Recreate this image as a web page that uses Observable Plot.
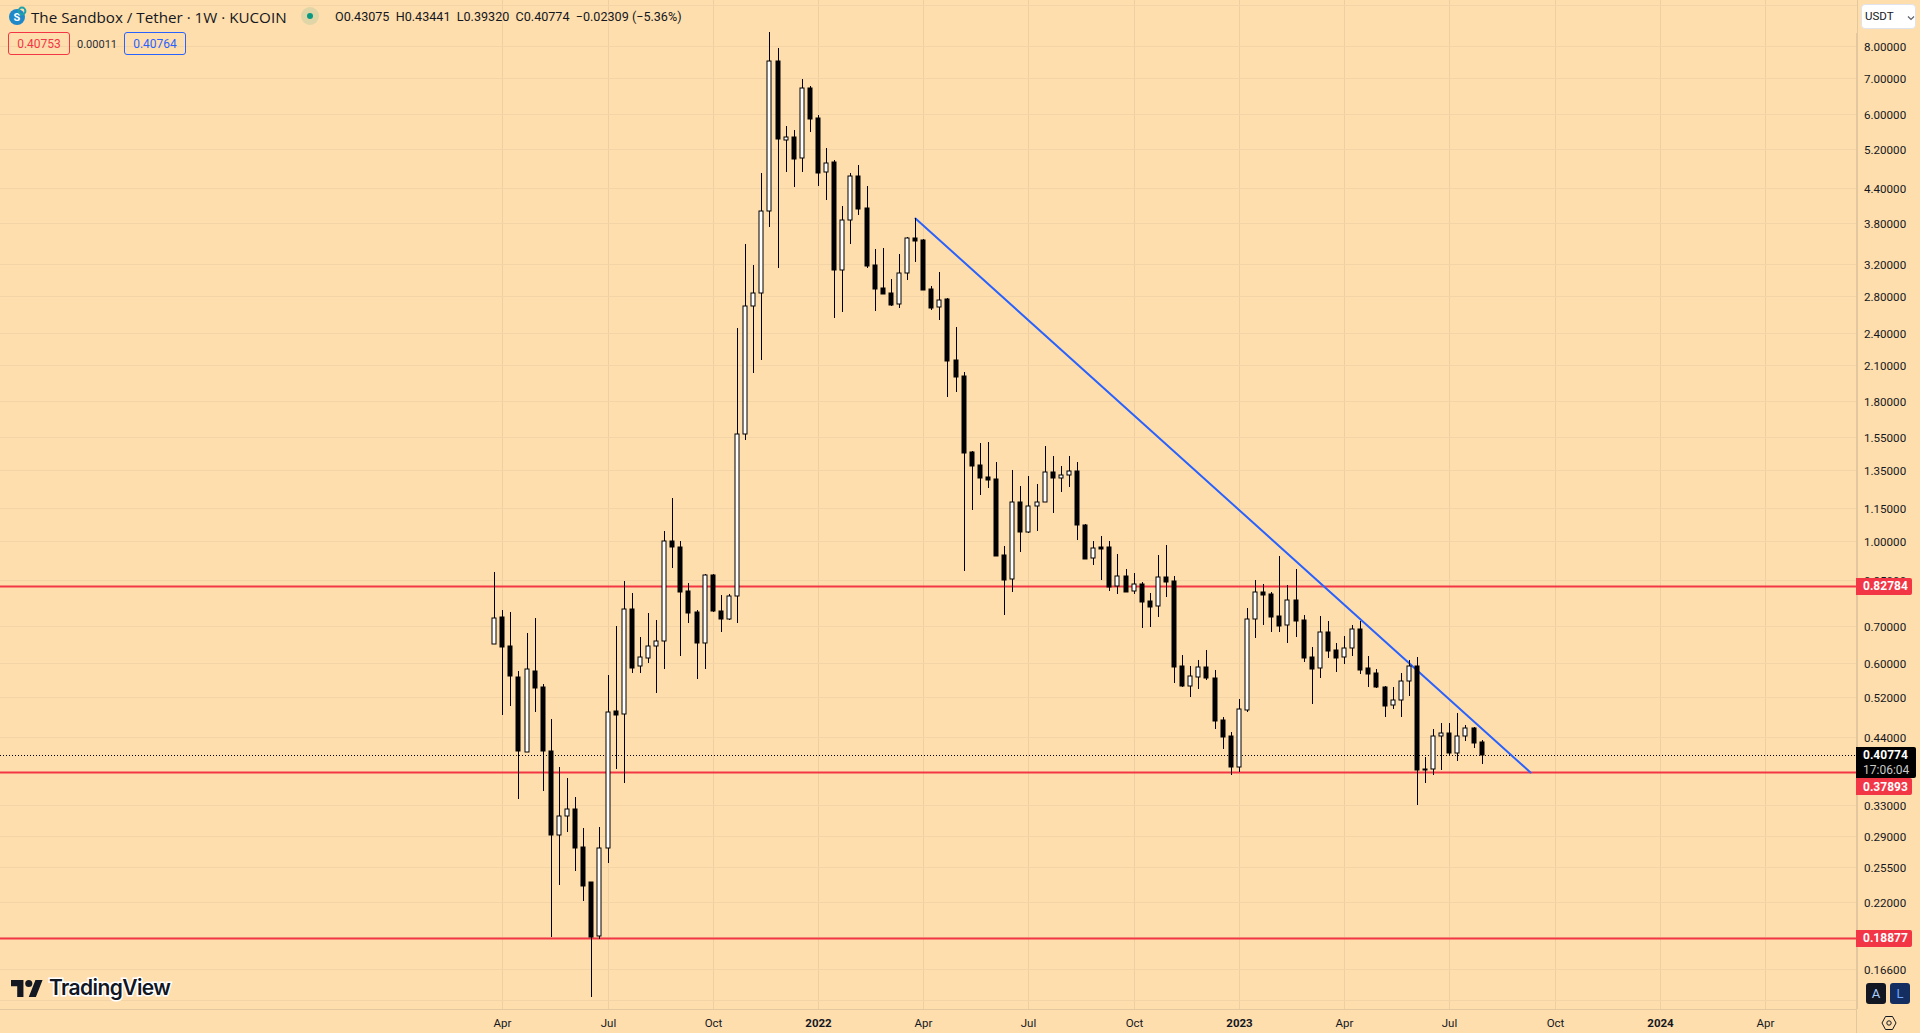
<!DOCTYPE html>
<html>
<head>
<meta charset="utf-8">
<script src="https://cdn.jsdelivr.net/npm/d3@7"></script>
<script src="https://cdn.jsdelivr.net/npm/@observablehq/plot@0.6"></script>
<style>
html,body{margin:0;padding:0;background:#ffdead;overflow:hidden}
#wrap{position:relative;width:1920px;height:1033px;background:#ffdead;font-family:Roboto,"Liberation Sans",sans-serif;color:#131722}
#wrap svg{display:block}
.ov{position:absolute;white-space:nowrap;box-sizing:border-box}
.tag{left:1856px;color:#fff;font-weight:700;font-size:12px;line-height:17px;height:17px;padding-left:7px;width:56px;background:#f23645;border-radius:0 2px 2px 0}
.box{top:32px;height:23px;line-height:22px;text-align:center;font-size:12px;border-radius:3px;border:1px solid}
</style>
</head>
<body>
<div id="wrap"></div>
<script>
const firstWeek = new Date(Date.UTC(2021, 2, 29));
const opens = [.6485,.7264,.6438,.5646,.4131,.5790,.5414,.4138,.2908,.3150,
.3244,.2766,.2388,.1903,.2754,.4901,.4833,.7513,.5912,.6115,
.6430,.6568,.9995,.9746,.8102,.7418,.6529,.8663,.7450,.7222,
.7933,1.566,2.681,2.830,3.995,7.501,5.383,5.451,4.991,6.696,
5.904,4.706,4.908,3.118,3.848,4.627,4.046,3.184,2.891,2.830,
2.704,3.078,3.567,3.538,2.879,2.670,2.761,2.137,2.001,1.453,
1.375,1.308,1.297,.9423,.8521,1.177,1.041,1.160,1.177,1.335,
1.302,1.318,1.341,1.069,.9307,.9746,.9746,.8272,.8628,.8103,
.8342,.7770,.7607,.8592,.8460,.5912,.5450,.5661,.5895,.5630,
.4714,.4407,.3879,.4928,.7205,.8068,.7999,.7298,.7024,.7800,
.7174,.6141,.5863,.6820,.6324,.6141,.6377,.6907,.5863,.5742,
.5414,.5021,.5126,.5552,.5912,.3842,.3837,.4407,.4463,.4114,
.4407,.4558,.43075];
const closes = [.7234,.6420,.5684,.4149,.5839,.5405,.4149,.2915,.3150,.3244,
.2762,.2354,.1895,.2754,.4874,.4825,.7513,.5863,.6141,.6430,
.6568,.9995,.9771,.8089,.7406,.6529,.8663,.7469,.7222,.7933,
1.566,2.681,2.830,3.995,7.501,5.406,5.451,4.983,6.696,5.894,
4.698,4.900,3.118,3.848,4.627,4.039,3.179,2.887,2.826,2.699,
3.078,3.567,3.532,2.875,2.666,2.757,2.134,1.995,1.449,1.372,
1.306,1.295,.9408,.8507,1.177,1.041,1.158,1.177,1.335,1.306,
1.318,1.341,1.069,.9292,.9705,.9690,.8260,.8628,.8089,.8342,
.7757,.7595,.8592,.8436,.5903,.5443,.5670,.5888,.5630,.4706,
.4400,.3879,.4936,.7205,.8068,.7987,.7283,.7012,.7800,.7162,
.6131,.5854,.6820,.6314,.6131,.6377,.6907,.5829,.5732,.5427,
.5011,.5126,.5552,.5912,.3831,.3831,.4407,.4463,.4114,.4407,
.4558,.4291,.40774];
const highs = [.8787,.7491,.7428,.5790,.6791,.7243,.5489,.4734,.3869,.3695,
.3411,.2995,.2388,.3008,.5693,.6994,.8460,.8034,.6679,.7387,
.7174,1.042,1.199,.9995,.8378,.7481,.8701,.8701,.7966,.7999,
2.444,3.477,3.184,4.684,8.471,7.921,5.708,5.614,6.954,6.752,
5.977,5.205,4.950,4.079,4.684,4.846,4.437,3.406,3.420,3.003,
3.347,3.582,3.881,3.552,2.916,3.092,2.773,2.454,2.032,1.458,
1.513,1.519,1.397,.9786,1.346,1.259,1.313,1.270,1.489,1.428,
1.369,1.428,1.397,1.073,.9995,1.021,.9995,.9462,.8887,.8738,
.8414,.8034,.9423,.9827,.8628,.6192,.5912,.6064,.6324,.5815,
.4773,.4482,.5148,.7544,.8485,.8342,.8068,.9384,.8307,.8887,
.7325,.6404,.7298,.7144,.6512,.6707,.7024,.7144,.6166,.5839,
.5450,.5414,.5742,.6064,.6141,.4035,.4539,.4654,.4654,.4854,
.4615,.4577,.43441];
const lows = [.6485,.4825,.5011,.3392,.4131,.4887,.3508,.1900,.2364,.2953,
.2507,.2211,.1477,.1884,.2586,.3847,.3628,.5756,.5756,.6003,
.5292,.5854,.8947,.6182,.7102,.5614,.5854,.7438,.6838,.7192,
.7102,1.531,2.028,2.140,3.745,3.152,4.718,4.430,4.718,5.581,
4.448,4.194,2.556,2.621,3.486,3.938,3.152,2.632,2.826,2.688,
2.666,2.998,3.231,2.867,2.643,2.534,1.834,1.872,.8835,1.141,
1.216,1.252,.9408,.7343,.8089,.9569,1.036,1.045,1.177,1.127,
1.231,1.257,1.006,.9292,.9059,.8507,.8123,.8021,.8089,.8021,
.6954,.6985,.7283,.7921,.5520,.5427,.5204,.5382,.5595,.4551,
.4184,.3751,.3799,.4887,.6668,.7041,.6838,.6838,.6529,.6696,
.6029,.5053,.5637,.6131,.5781,.5978,.6182,.5732,.5427,.5405,
.4786,.4948,.4786,.5226,.3307,.3628,.3751,.3831,.4062,.3978,
.4327,.4201,.39320];

const priceTicks = [8,7,6,5.2,4.4,3.8,3.2,2.8,2.4,2.1,1.8,1.55,1.35,1.15,1,.85,.7,.6,.52,.44,.38,.33,.29,.255,.22,.19,.166];
const extraGrid = [9.5,.1458];
const monthTicks = ["2021-04-05","2021-07-05","2021-10-04","2022-04-04","2022-07-04","2022-10-03","2023-04-03","2023-07-03","2023-10-02","2024-04-01"];
const monthLabels = ["Apr","Jul","Oct","Apr","Jul","Oct","Apr","Jul","Oct","Apr"];
const yearTicks = ["2022-01-03","2023-01-02","2024-01-01"];
const yearLabels = ["2022","2023","2024"];
const levels = [.82784,.37893,.18877];
const lastPrice = .40774;
const trendDates = ["2022-03-28","2023-09-11"];
const trendPrices = [3.881,.37893];
const xDomain = ["2020-01-26T14:00Z","2024-06-19T14:00Z"];
const yDomain = [.1403,9.703];

const d = s => new Date(s);
const candles = opens.map((o,i)=>({date:d3.utcDay.offset(firstWeek,7*i),open:o,close:closes[i],high:highs[i],low:lows[i],up:closes[i]>o}));
const mDates = monthTicks.map(d), yDates = yearTicks.map(d);
const trend = trendDates.map((t,i)=>({date:d(t),price:trendPrices[i]}));
const GRID="#f3d4a6", GRIDV="#efcfa2", AXIS="#e3c89f", INK="#131722";

const chart = Plot.plot({
  width:1920,height:1033,marginTop:0,marginLeft:0,marginRight:63,marginBottom:24,
  style:{background:"transparent",fontFamily:'Roboto,"Liberation Sans",sans-serif',overflow:"visible"},
  x:{type:"utc",domain:xDomain.map(d),round:true,label:null},
  y:{type:"log",domain:yDomain,round:true,label:null},
  marks:[
    Plot.ruleX([...mDates,...yDates],{x:z=>z,stroke:GRIDV,strokeWidth:1}),
    Plot.ruleY([...priceTicks,...extraGrid],{y:z=>z,stroke:GRID,strokeWidth:1}),
    Plot.ruleY(levels,{y:z=>z,stroke:"#f23645",strokeWidth:2}),
    Plot.ruleY([lastPrice],{y:z=>z,stroke:"#000",strokeWidth:1,strokeDasharray:"1 2"}),
    Plot.line(trend,{x:"date",y:"price",stroke:"#2962ff",strokeWidth:2}),
    Plot.ruleX(candles,{x:"date",y1:"low",y2:"high",stroke:"#000",strokeWidth:1}),
    Plot.rect(candles,{x1:"date",x2:"date",y1:"open",y2:"close",insetLeft:-2,insetRight:-2,fill:c=>c.up?"#fff":"#000",stroke:"#000",strokeWidth:1}),
    Plot.ruleX([1],{x:()=>d(xDomain[1]),stroke:AXIS}),
    Plot.ruleY([1],{y:()=>yDomain[0],stroke:AXIS}),
    Plot.axisY(priceTicks,{anchor:"right",label:null,tickSize:0,tickPadding:6.5,dy:1,tickFormat:v=>v.toFixed(5),fontSize:11.6,fill:INK}),
    Plot.axisX(mDates,{anchor:"bottom",label:null,tickSize:0,tickPadding:9,tickFormat:(v,i)=>monthLabels[i],fontSize:11.5,fill:INK}),
    Plot.axisX(yDates,{anchor:"bottom",label:null,tickSize:0,tickPadding:9,tickFormat:(v,i)=>yearLabels[i],fontSize:11.5,fontWeight:700,fill:INK})
  ]
});
const wrap=document.getElementById("wrap");
wrap.appendChild(chart);
const Y=v=>chart.scale("y").apply(v);

function add(html,css,cls){const e=document.createElement("div");e.className="ov "+(cls||"");e.innerHTML=html;e.style.cssText=css;wrap.appendChild(e);return e;}
// extend x-axis rule below
add("","left:1856px;top:33px;width:1px;height:1000px;background:"+AXIS);
// price tags
add(levels[0].toFixed(5),`top:${Math.round(Y(levels[0]))-8}px`,"tag");
add(levels[2].toFixed(5),`top:${Math.round(Y(levels[2]))-8}px`,"tag");
add(levels[1].toFixed(5),"top:778px;line-height:18px","tag");
add(`<div style="font-weight:700;color:#fff;line-height:15px">${lastPrice.toFixed(5)}</div><div style="color:#c9c9c9;line-height:15px">17:06:04</div>`,
 "left:1856px;top:747px;width:60px;height:31px;background:#000;padding:1px 0 0 7px;font-size:12px;border-radius:0 2px 2px 0");
// header
add(`<svg width="20" height="20" viewBox="0 0 20 20"><circle cx="9" cy="11" r="8" fill="#1e88c8"/><text x="9" y="15" text-anchor="middle" font-size="11" font-weight="700" fill="#fff" font-family="Roboto">S</text><circle cx="14" cy="5" r="3.4" fill="none" stroke="#1fa3a8" stroke-width="2"/></svg>`,"left:8px;top:6px;width:20px;height:20px");
add("The Sandbox / Tether · 1W · KUCOIN","left:31px;top:8px;font-size:15.2px;line-height:18px;font-family:'Open Sans',Roboto,sans-serif");
add("","left:301px;top:7px;width:18px;height:18px;border-radius:50%;background:rgba(8,153,129,.13)");
add("","left:307px;top:13px;width:6px;height:6px;border-radius:50%;background:#089981");
add("O0.43075&nbsp; H0.43441&nbsp; L0.39320&nbsp; C0.40774&nbsp; −0.02309 (−5.36%)","left:335px;top:9px;font-size:12.6px;line-height:16px");
add("0.40753","left:8px;width:62px;color:#f23645;border-color:#f23645","box");
add("0.00011","left:77px;top:37px;font-size:11px;line-height:15px;color:#2a2e39");
add("0.40764","left:124px;width:62px;color:#2962ff;border-color:#2962ff","box");
// currency button
add(`USDT<svg width="8" height="6" viewBox="0 0 8 6" style="position:absolute;left:45px;top:10px"><path d="M1 1.5l3 3 3-3" fill="none" stroke="#5d606b" stroke-width="1.2"/></svg>`,
 "left:1861px;top:4px;width:55px;height:25px;background:#fff;border:1px solid #e0e3eb;border-radius:4px;font-size:11.5px;line-height:23px;padding-left:3px");
// A / L
add("A","left:1866px;top:983px;width:20px;height:21px;background:#131722;color:#a9d0ff;border-radius:3px;text-align:center;font-size:13px;line-height:21px");
add("L","left:1890px;top:983px;width:20px;height:21px;background:#142e61;color:#6fa8ff;border-radius:3px;text-align:center;font-size:13px;line-height:21px");
add(`<svg width="18" height="18" viewBox="0 0 18 18"><path d="M5.5 2.5h7L16 9l-3.500 6.500h-7L2 9z" fill="none" stroke="#131722" stroke-width="1"/><circle cx="9" cy="9" r="2.200" fill="none" stroke="#131722" stroke-width="1"/></svg>`,"left:1880px;top:1014px;width:18px;height:18px");
// watermark
add(`<svg width="32" height="18" viewBox="0 0 36 20"><path d="M14 20H7V8H0V1h14z M28 20h-8L27.500 1h8z" fill="#131722"/><circle cx="20" cy="5" r="4" fill="#131722"/></svg>`,"left:11px;top:979px");
add("TradingView","left:49px;top:975px;font-size:21px;line-height:26px;font-weight:600;font-family:Inter,Roboto,sans-serif;color:#131722;-webkit-text-stroke:3px #fff;paint-order:stroke fill;letter-spacing:-.6px");
</script>
</body>
</html>
